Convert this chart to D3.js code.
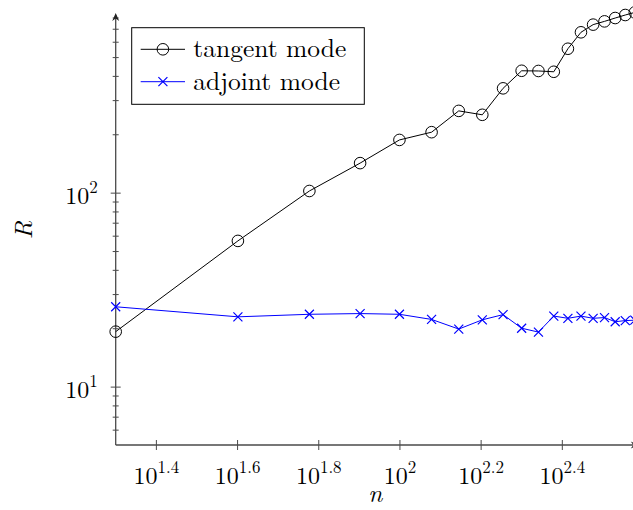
<!DOCTYPE html>
<html>
<head>
<meta charset="utf-8">
<script src="https://cdn.jsdelivr.net/npm/d3@7"></script>
<style>
    body { margin: 0; background: #fff; }
</style>
</head>
<body>
<div id="chart"></div>
<script>
// problem sizes
const sizes = [20, 40, 60, 80, 100, 120, 140, 160, 180, 200, 220, 240, 260, 280, 300, 320, 340, 360, 380];
// ratio R for each mode
const tangentR = [19.2, 56.4, 102, 142, 187, 205, 264, 252, 345, 425, 424, 420, 552, 671, 735, 764, 795, 824, 850];
const adjointR = [25.8, 22.9, 23.6, 23.8, 23.6, 22.2, 19.8, 22.1, 23.5, 20.0, 19.1, 23.1, 22.5, 23.1, 22.5, 22.7, 21.6, 21.9, 22.0];
const xTickExps = ['1.4', '1.6', '1.8', '2', '2.2', '2.4'];
const yTickExps = ['1', '2'];
const legendLabels = ['tangent mode', 'adjoint mode'];

const width = 633, height = 510;
const axisLeft = 115.7, axisRight = 634.8, axisBottom = 445, axisTop = 15;
const axisColor = '#4a4a4a';
const serif = "'Latin Modern Roman'";

const svg = d3.select('#chart').append('svg')
    .attr('width', width)
    .attr('height', height)
    .attr('font-family', serif);

const x = d3.scaleLog().domain([20, 380]).range([axisLeft, axisRight]);
const y = d3.scaleLog().domain([5, 824]).range([axisBottom, axisTop]);

// minor ticks on y: 6..9, 20..90, 200..800
const yMinor = [];
[1, 10, 100].forEach(d => {
    for (let k = 2; k <= 9; k++) {
        const v = d * k;
        if (v > 5 && v < 824 && v !== 10 && v !== 100) yMinor.push(v);
    }
});

// x axis
const xAxisG = svg.append('g')
    .attr('transform', `translate(0, ${axisBottom})`)
    .call(d3.axisBottom(x)
        .tickValues(xTickExps.map(e => Math.pow(10, +e)))
        .tickFormat('')
        .tickSizeOuter(0))
    .attr('font-family', serif);
xAxisG.select('.domain').remove();
xAxisG.selectAll('.tick line')
    .attr('y1', -5).attr('y2', 5)
    .attr('stroke', axisColor).attr('stroke-width', 1);

xAxisG.selectAll('.tick').each(function (d, i) {
    const t = d3.select(this).append('text')
        .attr('y', 39)
        .attr('fill', '#000')
        .attr('font-family', serif)
        .attr('font-size', 24)
        .attr('text-anchor', 'middle');
    t.append('tspan').text('10');
    t.append('tspan').attr('dy', -11).attr('font-size', 17).text(xTickExps[i]);
});

// y axis, minor ticks
const yMinorG = svg.append('g')
    .attr('transform', `translate(${axisLeft}, 0)`)
    .call(d3.axisLeft(y).tickValues(yMinor).tickFormat('').tickSizeOuter(0));
yMinorG.select('.domain').remove();
yMinorG.selectAll('.tick line')
    .attr('x1', -3).attr('x2', 3)
    .attr('stroke', axisColor).attr('stroke-width', 1);

// y axis, major ticks
const yAxisG = svg.append('g')
    .attr('transform', `translate(${axisLeft}, 0)`)
    .call(d3.axisLeft(y)
        .tickValues(yTickExps.map(e => Math.pow(10, +e)))
        .tickFormat('')
        .tickSizeOuter(0))
    .attr('font-family', serif);
yAxisG.select('.domain').remove();
yAxisG.selectAll('.tick line')
    .attr('x1', -5).attr('x2', 5)
    .attr('stroke', axisColor).attr('stroke-width', 1);

yAxisG.selectAll('.tick').each(function (d, i) {
    const t = d3.select(this).append('text')
        .attr('x', -18)
        .attr('y', 11)
        .attr('fill', '#000')
        .attr('font-family', serif)
        .attr('font-size', 24)
        .attr('text-anchor', 'end');
    t.append('tspan').text('10');
    t.append('tspan').attr('dy', -11).attr('font-size', 17).text(yTickExps[i]);
});

// axis lines with arrow heads
svg.append('line')
    .attr('x1', axisLeft).attr('x2', axisRight + 2)
    .attr('y1', axisBottom).attr('y2', axisBottom)
    .attr('stroke', axisColor).attr('stroke-width', 1.3);
svg.append('line')
    .attr('x1', axisLeft).attr('x2', axisLeft)
    .attr('y1', axisBottom).attr('y2', axisTop)
    .attr('stroke', axisColor).attr('stroke-width', 1.3);
svg.append('path')
    .attr('d', `M${axisLeft},${axisTop - 2} l-3.5,8 l3.5,-2.5 l3.5,2.5 z`)
    .attr('fill', '#222');
svg.append('path')
    .attr('d', `M${axisRight + 4},${axisBottom} l-8,-3.5 l2.5,3.5 l-2.5,3.5 z`)
    .attr('fill', '#222');

// axis labels
svg.append('text')
    .attr('x', (axisLeft + axisRight) / 2)
    .attr('y', 502)
    .attr('text-anchor', 'middle')
    .attr('font-family', serif)
    .attr('font-size', 25)
    .attr('font-style', 'italic')
    .text('n');
svg.append('text')
    .attr('transform', `translate(32, ${(axisTop + axisBottom) / 2}) rotate(-90)`)
    .attr('text-anchor', 'middle')
    .attr('font-family', serif)
    .attr('font-size', 25)
    .attr('font-style', 'italic')
    .text('R');

// series
const line = d3.line().x(d => x(d[0])).y(d => y(d[1]));
const tangentPts = sizes.map((n, i) => [n, tangentR[i]]);
const adjointPts = sizes.map((n, i) => [n, adjointR[i]]);

svg.append('path')
    .datum(tangentPts)
    .attr('d', line)
    .attr('fill', 'none')
    .attr('stroke', '#000')
    .attr('stroke-width', 1);
svg.append('g').selectAll('circle')
    .data(tangentPts)
    .enter()
    .append('circle')
    .attr('cx', d => x(d[0]))
    .attr('cy', d => y(d[1]))
    .attr('r', 5.8)
    .attr('fill', 'none')
    .attr('stroke', '#000')
    .attr('stroke-width', 1);

svg.append('path')
    .datum(adjointPts)
    .attr('d', line)
    .attr('fill', 'none')
    .attr('stroke', '#0000ff')
    .attr('stroke-width', 1);

const crossPath = s => `M${-s},${-s}L${s},${s}M${-s},${s}L${s},${-s}`;
svg.append('g').selectAll('path')
    .data(adjointPts)
    .enter()
    .append('path')
    .attr('transform', d => `translate(${x(d[0])}, ${y(d[1])})`)
    .attr('d', crossPath(4.5))
    .attr('stroke', '#0000ff')
    .attr('stroke-width', 1.2);

// legend
const legend = svg.append('g');
legend.append('rect')
    .attr('x', 131.7).attr('y', 27.7)
    .attr('width', 232.6).attr('height', 76.6)
    .attr('fill', '#fff')
    .attr('stroke', '#000')
    .attr('stroke-width', 1);

const rows = legend.selectAll('g.row')
    .data(legendLabels)
    .enter()
    .append('g')
    .attr('class', 'row')
    .attr('transform', (d, i) => `translate(0, ${49.3 + i * 32.4})`);

rows.append('line')
    .attr('x1', 140.7).attr('x2', 185)
    .attr('stroke', (d, i) => i === 0 ? '#000' : '#0000ff')
    .attr('stroke-width', 1);
rows.filter((d, i) => i === 0).append('circle')
    .attr('cx', 162.9).attr('r', 5.8)
    .attr('fill', 'none').attr('stroke', '#000');
rows.filter((d, i) => i === 1).append('path')
    .attr('transform', 'translate(162.9, 0)')
    .attr('d', crossPath(4.5))
    .attr('stroke', '#0000ff')
    .attr('stroke-width', 1.2);
rows.append('text')
    .attr('x', 193.3)
    .attr('y', 8)
    .attr('font-family', serif)
    .attr('font-size', 25.5)
    .text(d => d);
</script>
</body>
</html>
